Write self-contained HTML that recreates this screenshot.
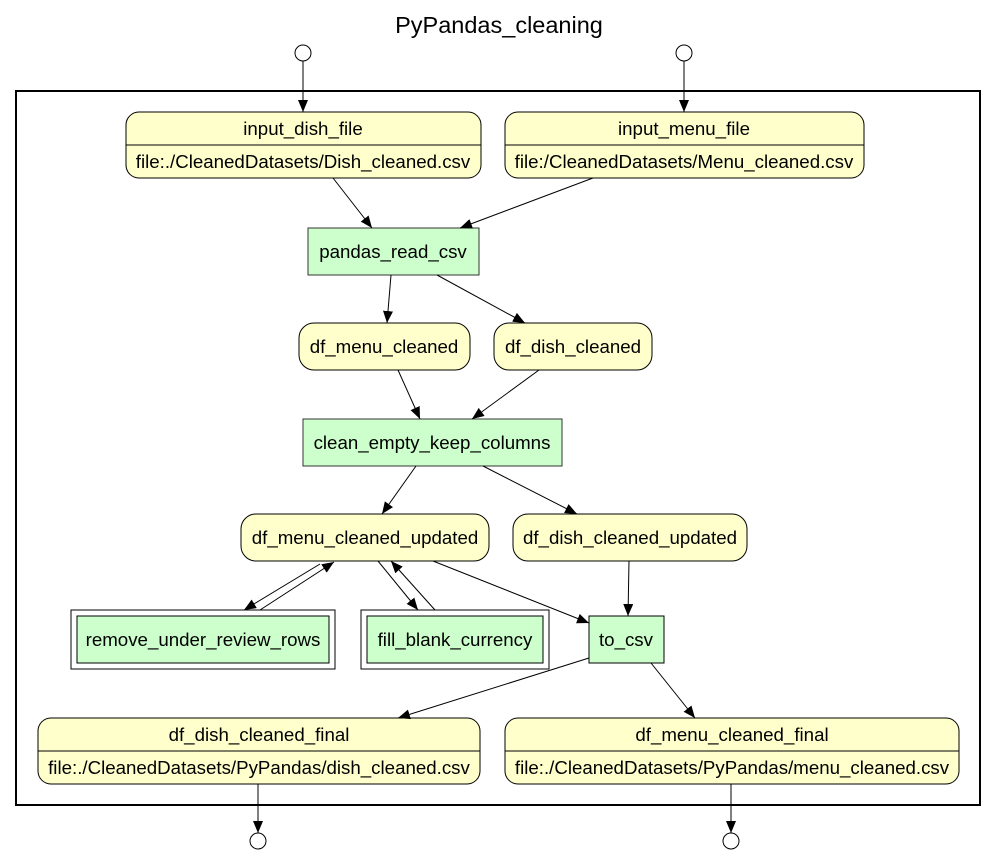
<!DOCTYPE html>
<html><head><meta charset="utf-8"><style>
html,body{margin:0;padding:0;background:#fff;}
svg{display:block;}
text{font-family:"Liberation Sans",Arial,sans-serif;font-size:18.7px;fill:#000;}
</style></head><body>
<svg width="997" height="857" viewBox="0 0 997 857" xmlns="http://www.w3.org/2000/svg">
<defs>
<marker id="a" markerWidth="12" markerHeight="10" refX="12" refY="5" orient="auto" markerUnits="userSpaceOnUse">
<path d="M0,0 L12,5 L0,10 z" fill="#000"/>
</marker>
</defs>
<text x="499" y="33" text-anchor="middle" style="font-size:23.5px">PyPandas_cleaning</text>
<rect x="16" y="91" width="964" height="714" fill="none" stroke="#000" stroke-width="2"/>
<g fill="#fff" stroke="#000">
<circle cx="303" cy="53" r="8"/><circle cx="684" cy="53" r="8"/>
<circle cx="258" cy="841" r="8"/><circle cx="731" cy="841" r="8"/>
</g>
<g fill="#ffffcc" stroke="#000">
<rect x="126" y="112" width="355" height="66" rx="13"/><line x1="126" y1="145" x2="481" y2="145"/>
<rect x="505" y="112" width="359" height="66" rx="13"/><line x1="505" y1="145" x2="864" y2="145"/>
<rect x="299" y="323" width="171" height="47" rx="15"/>
<rect x="494" y="323" width="158" height="47" rx="15"/>
<rect x="241" y="514" width="248" height="47" rx="15"/>
<rect x="513" y="514" width="234" height="47" rx="15"/>
<rect x="38" y="718" width="442" height="66" rx="13"/><line x1="38" y1="751" x2="480" y2="751"/>
<rect x="505" y="718" width="454" height="66" rx="13"/><line x1="505" y1="751" x2="959" y2="751"/>
</g>
<g fill="#ccffcc" stroke="#000">
<rect x="308" y="228" width="171" height="47" stroke="#333"/>
<rect x="303" y="419" width="259" height="47" stroke="#333"/>
<rect x="71" y="610" width="264" height="59" fill="#fff"/><rect x="77" y="616" width="252" height="47"/>
<rect x="361" y="610" width="188" height="59" fill="#fff"/><rect x="367" y="616" width="176" height="47"/>
<rect x="589" y="616" width="75" height="47"/>
</g>
<g stroke="#000" fill="none" marker-end="url(#a)">
<line x1="303" y1="61" x2="303" y2="112"/>
<line x1="684" y1="61" x2="684" y2="112"/>
<line x1="333" y1="178" x2="372" y2="228"/>
<line x1="593" y1="178" x2="460" y2="228"/>
<line x1="391" y1="275" x2="387" y2="323"/>
<line x1="437" y1="275" x2="525" y2="323"/>
<line x1="398" y1="370" x2="420" y2="419"/>
<line x1="539" y1="370" x2="472" y2="419"/>
<line x1="416" y1="466" x2="382" y2="514"/>
<line x1="483" y1="466" x2="577" y2="514"/>
<line x1="320" y1="564" x2="244" y2="610"/>
<line x1="260" y1="610" x2="334" y2="562"/>
<line x1="378" y1="561" x2="418" y2="610"/>
<line x1="435" y1="610" x2="391" y2="561"/>
<line x1="433" y1="561" x2="589" y2="623"/>
<line x1="629" y1="561" x2="628" y2="616"/>
<line x1="589" y1="658" x2="398" y2="718"/>
<line x1="651" y1="663" x2="695" y2="718"/>
<line x1="258" y1="784" x2="258" y2="833"/>
<line x1="731" y1="784" x2="731" y2="833"/>
</g>
<g text-anchor="middle">
<text x="303" y="135">input_dish_file</text>
<text x="303" y="168">file:./CleanedDatasets/Dish_cleaned.csv</text>
<text x="684" y="135">input_menu_file</text>
<text x="684" y="168">file:/CleanedDatasets/Menu_cleaned.csv</text>
<text x="393" y="258">pandas_read_csv</text>
<text x="384" y="353">df_menu_cleaned</text>
<text x="573" y="353">df_dish_cleaned</text>
<text x="432" y="449">clean_empty_keep_columns</text>
<text x="365" y="544">df_menu_cleaned_updated</text>
<text x="630" y="544">df_dish_cleaned_updated</text>
<text x="203" y="646">remove_under_review_rows</text>
<text x="455" y="646">fill_blank_currency</text>
<text x="626" y="646">to_csv</text>
<text x="259" y="741">df_dish_cleaned_final</text>
<text x="259" y="774">file:./CleanedDatasets/PyPandas/dish_cleaned.csv</text>
<text x="732" y="741">df_menu_cleaned_final</text>
<text x="732" y="774">file:./CleanedDatasets/PyPandas/menu_cleaned.csv</text>
</g>
</svg>
</body></html>
